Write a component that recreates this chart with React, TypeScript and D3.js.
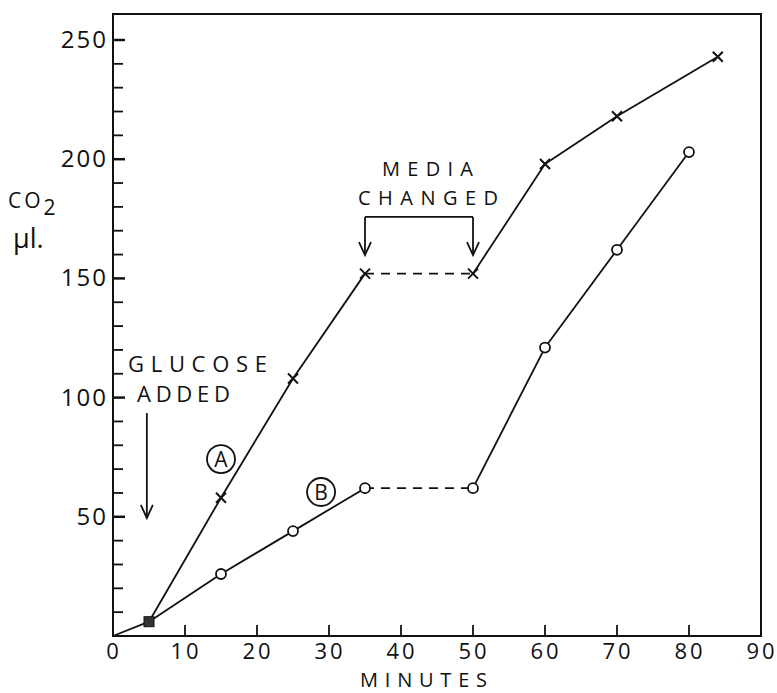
import React, { useEffect, useRef } from "react";
import * as d3 from "d3";

// minutes after start, CO2 in microlitres
const minutesA = [5, 15, 25, 35, 50, 60, 70, 84];
const co2A = [6, 58, 108, 152, 152, 198, 218, 243];
const minutesB = [5, 15, 25, 35, 50, 60, 70, 80];
const co2B = [6, 26, 44, 62, 62, 121, 162, 203];
// segment index where the media was changed (drawn dashed)
const mediaGap = 3;

const xTicks = [0, 10, 20, 30, 40, 50, 60, 70, 80, 90];
const yLabels = [50, 100, 150, 200, 250];

const FONT = "'Open Sans', 'DejaVu Sans', sans-serif";

export default function App() {
  const ref = useRef<SVGSVGElement>(null);

  useEffect(() => {
    const svg = d3.select(ref.current);
    svg.selectAll("*").remove();

    const W = 777;
    const H = 693;
    const x = d3.scaleLinear().domain([0, 90]).range([113, 761]);
    const y = d3.scaleLinear().domain([0, 250]).range([636, 40]);
    const top = 14;

    svg.attr("width", W).attr("height", H);
    svg.append("rect").attr("width", W).attr("height", H).attr("fill", "#fff");

    const ink = "#111";

    // frame
    svg
      .append("rect")
      .attr("x", x(0))
      .attr("y", top)
      .attr("width", x(90) - x(0))
      .attr("height", y(0) - top)
      .attr("fill", "none")
      .attr("stroke", ink)
      .attr("stroke-width", 2);

    // y ticks (inside, every 10)
    const yt = d3.range(10, 260, 10);
    svg
      .append("g")
      .selectAll("line")
      .data(yt)
      .join("line")
      .attr("x1", x(0))
      .attr("x2", (d) => x(0) + (d % 50 === 0 ? 12 : 10))
      .attr("y1", (d) => y(d))
      .attr("y2", (d) => y(d))
      .attr("stroke", ink)
      .attr("stroke-width", (d) => (d % 50 === 0 ? 2.5 : 1.8));

    svg
      .append("g")
      .selectAll("text")
      .data(yLabels)
      .join("text")
      .attr("x", x(0) - 5)
      .attr("y", (d) => y(d) + 8)
      .attr("text-anchor", "end")
      .attr("font-family", FONT)
      .attr("font-size", 24)
      .attr("letter-spacing", 2)
      .attr("fill", ink)
      .text((d) => d);

    // x ticks (inside, upward)
    svg
      .append("g")
      .selectAll("line")
      .data(xTicks.filter((d) => d > 0 && d < 90))
      .join("line")
      .attr("x1", (d) => x(d))
      .attr("x2", (d) => x(d))
      .attr("y1", y(0))
      .attr("y2", y(0) - 11)
      .attr("stroke", ink)
      .attr("stroke-width", 1.8);

    svg
      .append("g")
      .selectAll("text")
      .data(xTicks)
      .join("text")
      .attr("x", (d) => x(d) + 1)
      .attr("y", 659)
      .attr("text-anchor", "middle")
      .attr("font-family", FONT)
      .attr("font-size", 22)
      .attr("letter-spacing", 3)
      .attr("fill", ink)
      .text((d) => d);

    svg
      .append("text")
      .attr("x", 360)
      .attr("y", 687)
      .attr("font-family", FONT)
      .attr("font-size", 20)
      .attr("textLength", 127)
      .attr("lengthAdjust", "spacing")
      .attr("fill", ink)
      .text("MINUTES");

    // y axis label
    const yl = svg
      .append("text")
      .attr("x", 8)
      .attr("y", 208)
      .attr("font-family", FONT)
      .attr("font-size", 21)
      .attr("fill", ink);
    yl.append("tspan").attr("letter-spacing", 3).text("CO");
    yl.append("tspan").attr("dy", 7).text("2");
    svg
      .append("text")
      .attr("x", 13)
      .attr("y", 248)
      .attr("font-family", FONT)
      .attr("font-size", 27)
      .attr("fill", ink)
      .text("\u03bcl.");

    // lines
    const seriesList = [
      { xs: minutesA, ys: co2A, mark: "x" },
      { xs: minutesB, ys: co2B, mark: "o" },
    ];
    const lines = svg.append("g");
    // common start from origin
    lines
      .append("line")
      .attr("x1", x(0))
      .attr("y1", y(0))
      .attr("x2", x(minutesA[0]))
      .attr("y2", y(co2A[0]))
      .attr("stroke", ink)
      .attr("stroke-width", 1.8);

    seriesList.forEach((s) => {
      const pts = s.xs.map((m, i) => [m, s.ys[i]] as [number, number]);
      for (let i = 0; i < pts.length - 1; i++) {
        const a = pts[i];
        const b = pts[i + 1];
        lines
          .append("line")
          .attr("x1", x(a[0]))
          .attr("y1", y(a[1]))
          .attr("x2", x(b[0]))
          .attr("y2", y(b[1]))
          .attr("stroke", ink)
          .attr("stroke-width", 1.8)
          .attr("stroke-dasharray", i === mediaGap ? "9,7" : null);
      }
      const marks = svg.append("g");
      pts.slice(1).forEach((p) => {
        const cx = x(p[0]);
        const cy = y(p[1]);
        if (s.mark === "x") {
          const r = 5;
          marks
            .append("path")
            .attr("d", `M${cx - r},${cy - r}L${cx + r},${cy + r}M${cx - r},${cy + r}L${cx + r},${cy - r}`)
            .attr("stroke", ink)
            .attr("stroke-width", 2);
        } else {
          marks
            .append("circle")
            .attr("cx", cx)
            .attr("cy", cy)
            .attr("r", 5)
            .attr("fill", "#fff")
            .attr("stroke", ink)
            .attr("stroke-width", 1.8);
        }
      });
    });

    // shared first point
    svg
      .append("rect")
      .attr("x", x(minutesA[0]) - 5)
      .attr("y", y(co2A[0]) - 5)
      .attr("width", 10)
      .attr("height", 10)
      .attr("fill", "#333")
      .attr("stroke", ink);

    // arrow helper
    const arrow = (ax: number, y1: number, y2: number) => {
      svg
        .append("line")
        .attr("x1", ax)
        .attr("x2", ax)
        .attr("y1", y1)
        .attr("y2", y2)
        .attr("stroke", ink)
        .attr("stroke-width", 1.8);
      svg
        .append("path")
        .attr("d", `M${ax - 6},${y2 - 13}L${ax},${y2}L${ax + 6},${y2 - 13}`)
        .attr("fill", "none")
        .attr("stroke", ink)
        .attr("stroke-width", 1.8);
    };

    // glucose added
    svg
      .append("text")
      .attr("x", 128)
      .attr("y", 372)
      .attr("font-family", FONT)
      .attr("font-size", 22)
      .attr("textLength", 139)
      .attr("lengthAdjust", "spacing")
      .attr("fill", ink)
      .text("GLUCOSE");
    svg
      .append("text")
      .attr("x", 137)
      .attr("y", 402)
      .attr("font-family", FONT)
      .attr("font-size", 22)
      .attr("textLength", 93)
      .attr("lengthAdjust", "spacing")
      .attr("fill", ink)
      .text("ADDED");
    arrow(x(4.7), y(93.5), y(49.5));

    // media changed
    svg
      .append("text")
      .attr("x", 382)
      .attr("y", 176)
      .attr("font-family", FONT)
      .attr("font-size", 20)
      .attr("textLength", 91)
      .attr("lengthAdjust", "spacing")
      .attr("fill", ink)
      .text("MEDIA");
    svg
      .append("text")
      .attr("x", 358)
      .attr("y", 205)
      .attr("font-family", FONT)
      .attr("font-size", 20)
      .attr("textLength", 140)
      .attr("lengthAdjust", "spacing")
      .attr("fill", ink)
      .text("CHANGED");
    const bTop = y(175.8);
    svg
      .append("line")
      .attr("x1", x(35))
      .attr("x2", x(50))
      .attr("y1", bTop)
      .attr("y2", bTop)
      .attr("stroke", ink)
      .attr("stroke-width", 1.8);
    arrow(x(35), bTop, y(159.8));
    arrow(x(50), bTop, y(159.8));

    // series labels
    const circleLabel = (cx: number, cy: number, t: string) => {
      svg
        .append("circle")
        .attr("cx", cx)
        .attr("cy", cy)
        .attr("r", 14)
        .attr("fill", "none")
        .attr("stroke", ink)
        .attr("stroke-width", 1.8);
      svg
        .append("text")
        .attr("x", cx)
        .attr("y", cy + 7.5)
        .attr("text-anchor", "middle")
        .attr("font-family", FONT)
        .attr("font-size", 21)
        .attr("fill", ink)
        .text(t);
    };
    circleLabel(x(15), y(74.2), "A");
    circleLabel(x(28.9), y(60.4), "B");
  }, []);

  return (
    <svg
      ref={ref}
      style={{ position: "absolute", left: 0, top: 0, display: "block" }}
    />
  );
}
